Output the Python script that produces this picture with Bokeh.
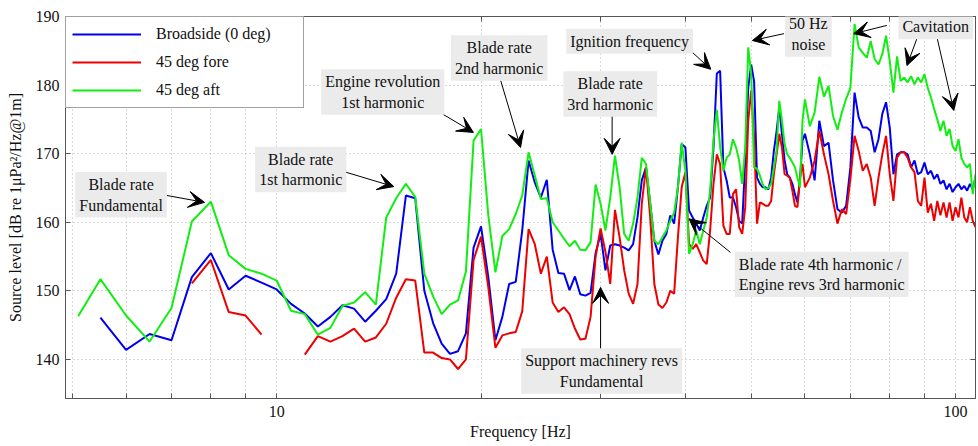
from bokeh.plotting import figure
from bokeh.models import Range1d, FixedTicker, LogAxis, LinearAxis, Label, Arrow, VeeHead
from bokeh.embed import file_html
from bokeh.resources import INLINE

nan = float("nan")

# Frequency bins [Hz]
freq = [5.1, 5.5, 6.0, 6.5, 7.0, 7.5, 8.0, 8.5, 9.0, 9.5,
        10.0, 10.5, 11.0, 11.5, 12.0, 12.5, 13.0, 13.5, 14.0, 14.5,
        15.0, 15.5, 16.0, 16.5, 17.0, 17.5, 18.0, 18.5, 19.0, 19.5,
        20.0, 20.5, 21.0, 21.5, 22.0, 22.5, 23.0, 23.5, 24.0, 24.5,
        25.0, 25.5, 26.0, 26.5, 27.0, 27.5, 28.0, 28.5, 29.0, 29.5,
        30.0, 30.5, 31.0, 31.5, 32.0, 32.5, 33.0, 33.5, 34.0, 34.5,
        35.0, 35.5, 36.0, 36.5, 37.0, 37.5, 38.0, 38.5, 39.0, 39.5,
        40.0, 40.5, 41.0, 41.5, 42.0, 42.5, 43.0, 43.5, 44.0, 44.5,
        45.0, 45.5, 46.0, 46.5, 47.0, 47.5, 48.0, 48.5, 49.0, 49.5,
        50.0, 50.5, 51.0, 51.5, 52.0, 52.5, 53.0, 53.5, 54.0, 54.5,
        55.0, 55.5, 56.0, 56.5, 57.0, 57.5, 58.0, 58.5, 59.0, 59.5,
        60.0,
        61, 62, 63, 64, 65, 66, 67, 68, 69, 70,
        71, 72, 73, 74, 75, 76, 77, 78, 79, 80,
        81, 82, 83, 84, 85, 86, 87, 88, 89, 90,
        91, 92, 93, 94, 95, 96, 97, 98, 99, 100,
        101, 102, 103, 104, 105, 106, 107]

# Source level [dB re 1uPa^2/Hz @ 1m]
broadside = [nan, 146.1, 141.4, 143.7, 142.8, 152.0, 155.5, 150.2, 152.2, 151.2,
             150.2, 148.1, 146.7, 144.8, 146.2, 147.9, 147.4, 145.5, 147.1, 148.8,
             152.5, 163.9, 163.5, 150.0, 145.3, 142.3, 140.8, 141.2, 143.8, 156.3,
             159.4, 152.0, 142.8, 146.2, 151.0, 151.3, 158.8, 169.0, 165.8, 163.6,
             166.2, 156.0, 152.6, 152.5, 150.1, 152.1, 149.5, 149.3, 149.7, 155.5,
             158.3, 153.0, 156.6, 156.8, 156.6, 156.3, 155.9, 156.8, 160.7, 166.1,
             168.0, 162.7, 157.3, 155.3, 157.3, 158.3, 161.0, 159.8, 165.1, 171.4,
             170.9, 161.7, 160.7, 159.8, 158.8, 160.7, 162.4, 163.6, 170.9, 181.7,
             182.1, 168.0, 166.1, 163.6, 163.6, 162.2, 160.2, 159.8, 169.0, 179.6,
             183.0, 180.5, 166.5, 165.6, 165.1, 165.1, 164.8, 166.5, 170.4, 173.3,
             176.7, 172.9, 169.0, 167.0, 166.5, 165.6, 164.1, 162.9, 166.1, 171.9,
             172.9,
             169.9, 166.1, 174.8, 171.1, 171.6, 166.1, 161.9, 161.4, 162.4, 168.0,
             178.9, 175.3, 173.8, 173.8, 173.3, 170.2, 172.1, 175.8, 177.5, 173.8,
             167.0, 169.9, 170.2, 170.2, 169.9, 168.0, 169.0, 167.0, 167.3, 168.7,
             167.0, 167.5, 166.3, 167.0, 165.6, 166.1, 164.8, 165.6, 164.4, 165.1,
             165.6, 164.8, 165.3, 164.6, 165.6, 164.8, 166.5]

fore45 = [nan, nan, nan, nan, nan, 151.1, 154.5, 146.9, 146.4, 143.6,
          nan, nan, 140.7, 143.4, 142.6, 143.4, 144.5, 142.6, 143.2, 145.2,
          149.0, 151.7, 151.5, 141.0, 141.0, 140.2, 140.0, 138.6, 140.0, 154.5,
          157.9, 150.5, 141.7, 143.5, 143.8, 144.0, 147.0, 159.0, 156.8, 152.5,
          155.0, 148.3, 146.9, 147.6, 146.6, 144.5, 142.9, 143.0, 146.2, 155.0,
          159.1, 155.7, 151.0, 161.8, 157.8, 153.0, 149.6, 148.1, 151.0, 162.7,
          168.0, 160.7, 151.0, 148.0, 147.5, 148.3, 150.0, 149.6, 157.8, 165.1,
          167.3, 156.8, 156.1, 156.8, 155.6, 154.4, 153.9, 158.8, 165.6, 169.9,
          168.5, 159.5, 158.3, 158.3, 164.1, 164.8, 159.3, 158.3, 162.2, 174.8,
          179.2, 172.4, 159.8, 162.9, 162.7, 162.4, 162.4, 163.1, 167.0, 169.9,
          172.9, 170.9, 167.0, 166.8, 166.5, 164.6, 162.4, 162.2, 166.5, 168.5,
          165.1,
          166.5, 169.0, 173.3, 169.9, 167.0, 163.1, 159.8, 161.9, 161.2, 166.3,
          172.6, 170.4, 167.5, 168.5, 166.5, 162.4, 166.5, 169.9, 172.6, 167.0,
          163.1, 169.4, 170.2, 170.2, 169.4, 168.0, 167.3, 163.1, 162.4, 166.5,
          161.4, 162.7, 160.2, 163.1, 161.0, 162.9, 160.7, 162.9, 160.2, 162.2,
          160.7, 163.6, 160.7, 160.0, 162.2, 160.2, 159.3]

aft45 = [146.3, 151.7, 146.4, 142.6, 147.5, 160.1, 163.0, 155.2, 153.2, 152.5,
         151.5, 147.1, 146.6, 143.6, 144.6, 147.8, 148.3, 149.8, 148.0, 160.7,
         163.5, 165.6, 163.7, 152.5, 149.2, 146.6, 148.0, 148.6, 152.8, 171.9,
         173.6, 161.0, 152.7, 158.0, 159.0, 161.2, 163.9, 170.2, 166.8, 163.4,
         163.5, 160.0, 158.8, 157.6, 156.5, 157.3, 156.0, 155.9, 157.1, 165.5,
         162.7, 158.8, 163.6, 169.7, 165.1, 158.3, 157.3, 159.8, 163.6, 169.4,
         168.5, 162.7, 157.3, 156.8, 157.8, 158.8, 160.2, 161.4, 165.1, 171.6,
         167.5, 155.4, 156.8, 158.8, 156.8, 158.8, 160.7, 164.6, 171.9, 176.4,
         171.0, 167.5, 169.4, 169.9, 172.1, 170.9, 169.0, 165.6, 171.0, 185.5,
         181.6, 168.0, 167.8, 166.8, 165.5, 164.8, 165.0, 165.6, 168.0, 170.5,
         177.7, 174.8, 171.4, 169.9, 169.4, 168.7, 168.0, 166.5, 165.1, 174.8,
         177.9,
         174.0, 176.0, 181.2, 178.3, 179.9, 175.5, 173.5, 176.0, 178.0, 179.6,
         188.9, 185.5, 184.7, 184.0, 186.4, 183.8, 183.0, 184.5, 187.2, 183.5,
         178.9, 184.2, 180.6, 181.1, 180.4, 181.3, 180.1, 181.1, 180.4, 181.6,
         179.6, 178.2, 176.5, 175.0, 173.3, 174.8, 172.6, 173.6, 171.1, 170.4,
         172.1, 169.4, 168.5, 168.0, 168.5, 164.1, 167.0]

series_names = ["Broadside (0 deg)", "45 deg fore", "45 deg aft"]
series_colors = ["#0000ee", "#ee0000", "#11ee11"]

x_ticks = [5, 6, 7, 8, 9, 10, 20, 30, 40, 50, 60, 70, 80, 90, 100]
x_tick_labels = {t: ("10" if t == 10 else "100" if t == 100 else "") for t in x_ticks}
y_ticks = [140, 150, 160, 170, 180, 190]

# Annotations: (text, x [Hz], y [dB], align)
notes = [
    ("Blade rate\nFundamental", 5.9, 164.0, "center"),
    ("Blade rate\n1st harmonic", 10.85, 167.7, "center"),
    ("Engine revolution\n1st harmonic", 14.33, 179.0, "center"),
    ("Blade rate\n2nd harmonic", 21.27, 183.95, "center"),
    ("Ignition frequency", 33.1, 186.4, "center"),
    ("Blade rate\n3rd harmonic", 31.0, 178.7, "center"),
    ("50 Hz\nnoise", 60.7, 187.45, "center"),
    ("Cavitation", 93.5, 188.5, "center"),
    ("Blade rate 4th harmonic /\nEngine revs 3rd harmonic", 47.3, 152.4, "left"),
    ("Support machinery revs\nFundamental", 30.1, 138.3, "center"),
]
# Arrows: (x_start, y_start, x_end, y_end) in Hz / dB
arrows = [
    (6.89, 163.9, 7.83, 162.9),
    (12.64, 167.3, 14.88, 165.2),
    (17.54, 175.8, 19.49, 173.1),
    (21.38, 180.66, 22.87, 170.9),
    (40.93, 184.8, 43.6, 182.3),
    (31.2, 175.56, 31.2, 169.9),
    (55.9, 187.5, 50.2, 186.5),
    (79.2, 188.7, 70.8, 187.5),
    (87.7, 186.75, 84.8, 182.85),
    (94.0, 186.75, 99.4, 176.3),
    (46.6, 155.6, 40.5, 160.5),
    (30.0, 141.5, 30.0, 150.5),
]

FONT = "'Liberation Serif', 'Times New Roman', 'DejaVu Serif', serif"

p = figure(width=978, height=446, x_axis_type="log",
           x_range=Range1d(4.886, 107.0), y_range=Range1d(134.3, 190),
           output_backend="svg", toolbar_location=None,
           min_border_left=65, min_border_right=3, min_border_top=16, min_border_bottom=48,
           background_fill_color="white", border_fill_color="white")

for vals, name, col in zip([broadside, fore45, aft45], series_names, series_colors):
    p.line(freq, vals, line_color=col, line_width=2, legend_label=name)

xt = FixedTicker(ticks=x_ticks)
yt = FixedTicker(ticks=y_ticks)
p.xaxis.ticker = xt
p.yaxis.ticker = yt
p.xgrid.ticker = xt
p.ygrid.ticker = yt
p.xaxis.major_label_overrides = x_tick_labels

for ax in (p.xaxis[0], p.yaxis[0]):
    ax.major_tick_in = 5
    ax.major_tick_out = 0
    ax.minor_tick_in = 0
    ax.minor_tick_out = 0
    ax.axis_line_color = "#555555"
    ax.major_tick_line_color = "#555555"
    ax.major_label_text_font = FONT
    ax.major_label_text_font_size = "16px"
    ax.major_label_text_color = "#111111"
    ax.axis_label_text_font = FONT
    ax.axis_label_text_font_size = "16px"
    ax.axis_label_text_font_style = "normal"
    ax.axis_label_text_color = "#111111"

p.xaxis.axis_label = "Frequency [Hz]"
p.yaxis.axis_label = "Source level [dB re 1\u03bcPa\u00b2/Hz@1m]"
p.xaxis.major_label_standoff = 7
p.xaxis.axis_label_standoff = 3
p.yaxis.major_label_standoff = 6
p.yaxis.axis_label_standoff = 9

top = LogAxis(ticker=xt, major_tick_in=5, major_tick_out=0, minor_tick_in=0, minor_tick_out=0,
              major_label_text_color=None, major_label_standoff=0,
              axis_line_color="#555555", major_tick_line_color="#555555")
right = LinearAxis(ticker=yt, major_tick_in=5, major_tick_out=0, minor_tick_in=0, minor_tick_out=0,
                   major_label_text_color=None, major_label_standoff=0,
                   axis_line_color="#555555", major_tick_line_color="#555555")
p.add_layout(top, "above")
p.add_layout(right, "right")

for g in (p.xgrid[0], p.ygrid[0]):
    g.grid_line_color = "#b5b5b5"
    g.grid_line_dash = "1 3"
    g.grid_line_width = 1

p.outline_line_color = "#555555"

lg = p.legend[0]
lg.location = "top_left"
lg.margin = 0
lg.padding = 6
lg.spacing = 6
lg.glyph_height = 22
lg.glyph_width = 69
lg.label_standoff = 15
lg.label_width = 141
lg.label_text_font = FONT
lg.label_text_font_size = "16px"
lg.label_text_color = "#111111"
lg.border_line_color = "#444444"
lg.border_line_width = 1
lg.background_fill_alpha = 1.0

for (xs, ys, xe, ye) in arrows:
    p.add_layout(Arrow(x_start=xs, y_start=ys, x_end=xe, y_end=ye,
                       line_color="black", line_width=1,
                       end=VeeHead(size=16, fill_color="black", line_color="black")))

for text, x, y, align in notes:
    p.add_layout(Label(x=x, y=y, text=text, text_align=align, text_baseline="middle",
                       text_font=FONT, text_font_size="16px", text_color="#111111",
                       background_fill_color="#ebebeb", background_fill_alpha=1.0,
                       padding=4))

open("out.html", "w").write(file_html(p, INLINE))
